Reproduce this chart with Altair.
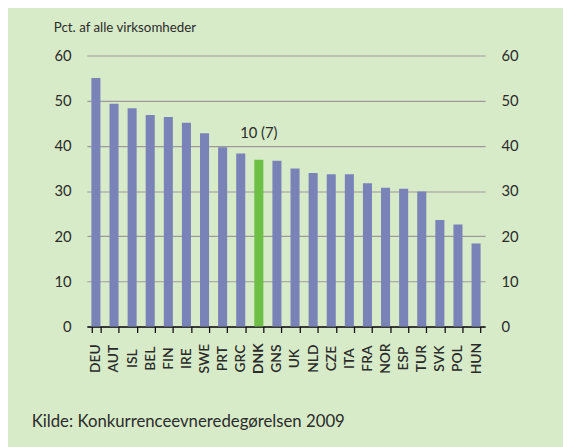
import altair as alt
import pandas as pd

countries = ["DEU", "AUT", "ISL", "BEL", "FIN", "IRE", "SWE", "PRT", "GRC", "DNK", "GNS",
             "UK", "NLD", "CZE", "ITA", "FRA", "NOR", "ESP", "TUR", "SVK", "POL", "HUN"]
values = [55.0, 49.3, 48.3, 46.8, 46.4, 45.1, 42.8, 39.7, 38.3, 36.9, 36.7,
          35.0, 34.0, 33.7, 33.7, 31.7, 30.7, 30.5, 29.9, 23.6, 22.6, 18.4]
highlight_country = "DNK"
annotation_text = "10 (7)"
y_title = "Pct. af alle virksomheder"
source_text = "Kilde: Konkurrenceevneredegørelsen 2009"
y_ticks = [0, 10, 20, 30, 40, 50, 60]

df = pd.DataFrame({"country": countries, "value": values})
df["hl"] = ["hl" if c == highlight_country else "other" for c in countries]
df["note"] = [annotation_text if c == highlight_country else "" for c in countries]

FONT = "Lato"
TXT = "#2b2b2b"

xenc = alt.X(
    "country:N", sort=countries,
    scale=alt.Scale(paddingInner=0.5, paddingOuter=0.25),
    axis=alt.Axis(
        title=None, labelAngle=-90, labelAlign="center", labelBaseline="middle",
        labelPadding=26, tickBand="extent", tickSize=6, tickColor="#111",
        tickWidth=1.3, domainColor="#111", domainWidth=1.5,
        labelFont=FONT, labelFontSize=14, labelColor=TXT,
        labelFontWeight={"condition": {"test": "datum.value == 'DNK'", "value": "bold"},
                         "value": 600},
    ),
)

yscale = alt.Scale(domain=[0, 60], nice=False)

bars = alt.Chart(df).mark_bar().encode(
    x=xenc,
    y=alt.Y("value:Q", scale=yscale,
            axis=alt.Axis(
                values=y_ticks, orient="left", title=y_title, titleAngle=0,
                titleAlign="left", titleBaseline="alphabetic", titleX=-34, titleY=-24,
                titleFont=FONT, titleFontSize=13.5, titleFontWeight="normal",
                titleColor=TXT, domain=False, ticks=False, tickSize=0,
                labelPadding=16, labelFont=FONT, labelFontSize=15, labelColor=TXT,
                grid=True, gridColor="#9a9a9a", gridWidth=1.2,
            )),
    color=alt.Color("hl:N", scale=alt.Scale(domain=["hl", "other"],
                                              range=["#6dbf45", "#7a83b8"]), legend=None),
)

right_axis = alt.Chart(df).mark_bar(opacity=0).encode(
    x=alt.X("country:N", sort=countries),
    y=alt.Y("value:Q", scale=yscale,
            axis=alt.Axis(values=y_ticks, orient="right", title=None, domain=False,
                          ticks=False, tickSize=0, labelPadding=16, grid=False,
                          labelFont=FONT, labelFontSize=15, labelColor=TXT)),
)

note = alt.Chart(df[df["note"] != ""]).mark_text(
    baseline="alphabetic", dy=-22, font=FONT, fontSize=15, color=TXT
).encode(
    x=alt.X("country:N", sort=countries),
    y=alt.Y("value:Q", scale=yscale, axis=None),
    text="note:N",
)

source = alt.Chart(pd.DataFrame({"t": [source_text]})).mark_text(
    align="left", baseline="alphabetic", font=FONT, fontSize=17, color=TXT
).encode(x=alt.value(-56), y=alt.value(377), text="t:N")

chart = alt.layer(bars, note, right_axis, source).resolve_scale(
    y="independent"
).properties(
    width=404, height=275, autosize="none",
    padding={"left": 80, "top": 45, "right": 79, "bottom": 119},
    background="#d8ebc9",
).configure_view(stroke=None)

chart.save("out.html", embed_options={"renderer": "svg", "actions": False})
